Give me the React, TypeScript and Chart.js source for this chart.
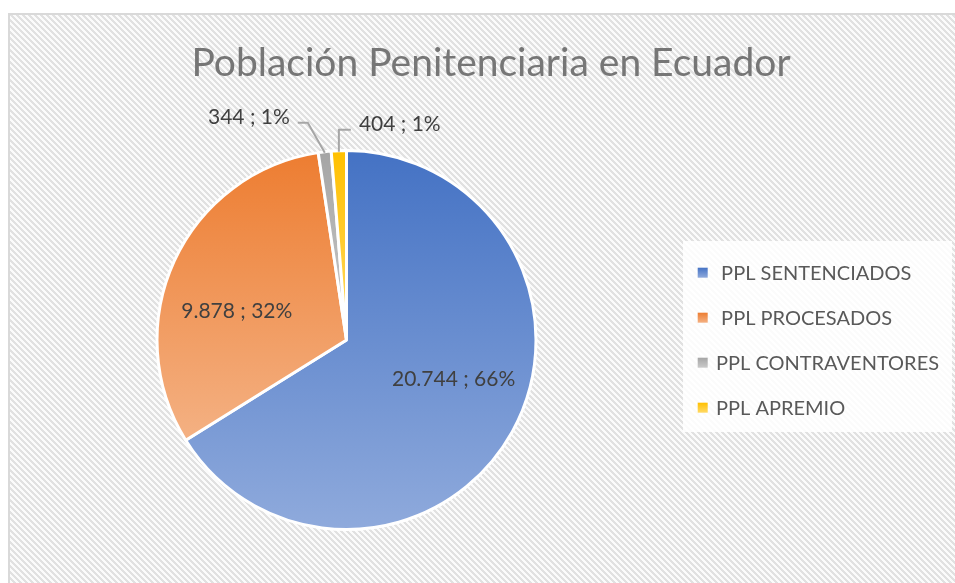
import React, { useEffect, useRef } from "react";
import { Chart, registerables } from "chart.js";

Chart.register(...registerables);

// ---------- data ----------
const TITLE = "Población Penitenciaria en Ecuador";
const categories = [" PPL SENTENCIADOS", " PPL PROCESADOS", "PPL CONTRAVENTORES", "PPL APREMIO"];
const values = [20744, 9878, 344, 404];
const percents = [66, 32, 1, 1];

// ---------- style ----------
const topColors = ["#4472C4", "#ED7D31", "#A5A5A5", "#FFC000"];
const bottomColors = ["#8FAADC", "#F4B183", "#CACACA", "#FFD966"];
const BORDER = 3;
const FONT = "Lato, 'Open Sans', sans-serif";
const CANVAS_W = 947;
const CANVAS_H = 570;
// leader-line geometry for slices whose label sits outside (relative to the slice edge)
const leaderStyle: (null | { dx: number; dy: number; run: number })[] = [
  null,
  null,
  { dx: -17, dy: -30, run: -10 },
  { dx: 0, dy: -22, run: 12 },
];

const total = values.reduce((s, v) => s + v, 0);

function fmtThousands(v: number): string {
  return String(v).replace(/\B(?=(\d{3})+(?!\d))/g, ".");
}
function labelText(i: number): string {
  return `${fmtThousands(values[i])} ; ${percents[i]}%`;
}

function sliceYRange(chart: any, i: number) {
  const a = chart.chartArea;
  const cx = (a.left + a.right) / 2;
  const cy = (a.top + a.bottom) / 2;
  const r = (Math.min(a.right - a.left, a.bottom - a.top) - BORDER) / 2;
  let start = -Math.PI / 2;
  for (let k = 0; k < i; k++) start += (values[k] / total) * Math.PI * 2;
  const end = start + (values[i] / total) * Math.PI * 2;
  const ys = [cy, cy + r * Math.sin(start), cy + r * Math.sin(end)];
  for (let k = -2; k <= 2; k++) {
    const b = Math.PI / 2 + k * Math.PI * 2;
    if (b >= start && b <= end) ys.push(cy + r);
    const t = -Math.PI / 2 + k * Math.PI * 2;
    if (t >= start && t <= end) ys.push(cy - r);
  }
  void cx;
  return { top: Math.min(...ys), bottom: Math.max(...ys) };
}

function sliceFill(c: any) {
  const chart = c.chart;
  const i = c.dataIndex ?? 0;
  if (!chart.chartArea) return topColors[i];
  const { top, bottom } = sliceYRange(chart, i);
  const g = chart.ctx.createLinearGradient(0, top, 0, Math.max(bottom, top + 1));
  g.addColorStop(0, topColors[i]);
  g.addColorStop(1, bottomColors[i]);
  return g;
}

const decorPlugin = {
  id: "decor",
  beforeDraw(chart: any) {
    const { ctx, width, height } = chart;
    const tile = document.createElement("canvas");
    tile.width = 6;
    tile.height = 6;
    const t = tile.getContext("2d")!;
    t.fillStyle = "#fbfbfb";
    t.fillRect(0, 0, 6, 6);
    t.fillStyle = "#e1e1e1";
    for (let y = 0; y < 6; y++)
      for (let x = 0; x < 6; x++) if ((((x - y) % 6) + 6) % 6 < 3) t.fillRect(x, y, 1, 1);
    ctx.save();
    ctx.fillStyle = ctx.createPattern(tile, "repeat");
    ctx.fillRect(0, 0, width, height);
    ctx.fillStyle = "#d9d9d9";
    ctx.fillRect(0, 0, width, 2);
    ctx.fillRect(0, 0, 2, height);

    // title
    ctx.fillStyle = "#767676";
    ctx.font = `39px ${FONT}`;
    ctx.textAlign = "center";
    ctx.textBaseline = "alphabetic";
    ctx.fillText(TITLE, 483, 63);

    // legend box
    ctx.fillStyle = "rgba(255,255,255,0.85)";
    ctx.fillRect(675, 228, 269, 191);
    ctx.restore();
  },
  afterDatasetsDraw(chart: any) {
    const { ctx } = chart;
    const meta = chart.getDatasetMeta(0);
    ctx.save();
    const fs = 21;
    ctx.font = `${fs}px ${FONT}`;
    ctx.fillStyle = "#404040";
    ctx.textBaseline = "alphabetic";
    meta.data.forEach((arc: any, i: number) => {
      const { x, y, startAngle, endAngle, outerRadius } = arc.getProps(
        ["x", "y", "startAngle", "endAngle", "outerRadius"],
        true
      );
      const mid = (startAngle + endAngle) / 2;
      const ls = leaderStyle[i];
      if (!ls) {
        const ang = mid - (9.5 * Math.PI) / 180;
        const d = outerRadius * 0.6;
        ctx.textAlign = "center";
        ctx.fillText(labelText(i), x + d * Math.cos(ang), y + d * Math.sin(ang) + fs * 0.358);
      } else {
        const ex = x + (outerRadius - 1) * Math.cos(mid);
        const ey = y + (outerRadius - 1) * Math.sin(mid);
        const bx = ex + ls.dx;
        const by = ey + ls.dy;
        const hx = bx + ls.run;
        ctx.strokeStyle = "#a6a6a6";
        ctx.lineWidth = 2;
        ctx.beginPath();
        ctx.moveTo(ex, ey);
        ctx.lineTo(bx, by);
        ctx.lineTo(hx, by);
        ctx.stroke();
        if (ls.run < 0) {
          ctx.textAlign = "right";
          ctx.fillText(labelText(i), hx - 8, by + 1);
        } else {
          ctx.textAlign = "left";
          ctx.fillText(labelText(i), hx + 8, by + 1);
        }
      }
    });

    const lfs = 20;
    ctx.font = `${lfs}px ${FONT}`;
    ctx.textAlign = "left";
    categories.forEach((name, i) => {
      const cy = 259.7 + 45 * i;
      const g = ctx.createLinearGradient(0, cy - 5, 0, cy + 5);
      g.addColorStop(0, topColors[i]);
      g.addColorStop(1, bottomColors[i]);
      ctx.fillStyle = g;
      ctx.fillRect(689.7, cy - 5, 10, 10);
      ctx.fillStyle = "#595959";
      ctx.fillText(name, 708, cy + lfs * 0.358);
    });
    ctx.restore();
  },
};

export default function App() {
  const ref = useRef<HTMLCanvasElement | null>(null);
  useEffect(() => {
    document.documentElement.style.overflow = "hidden";
    document.body.style.overflow = "hidden";
    if (!ref.current) return;
    const chart = new Chart(ref.current, {
      type: "pie",
      data: {
        labels: categories,
        datasets: [
          {
            data: values,
            backgroundColor: sliceFill as any,
            borderColor: "#ffffff",
            borderWidth: BORDER,
          },
        ],
      },
      options: {
        animation: false,
        responsive: false,
        maintainAspectRatio: false,
        devicePixelRatio: 1,
        events: [],
        layout: { padding: { left: 147.5, right: 417.5, top: 136, bottom: 52 } },
        plugins: {
          legend: { display: false },
          title: { display: false },
          tooltip: { enabled: false },
        },
      },
      plugins: [decorPlugin],
    });
    return () => chart.destroy();
  }, []);
  return (
    <div style={{ position: "fixed", left: 8, top: 13, width: CANVAS_W, height: CANVAS_H }}>
      <canvas
        ref={ref}
        width={CANVAS_W}
        height={CANVAS_H}
        style={{ display: "block", width: CANVAS_W, height: CANVAS_H }}
      />
    </div>
  );
}
